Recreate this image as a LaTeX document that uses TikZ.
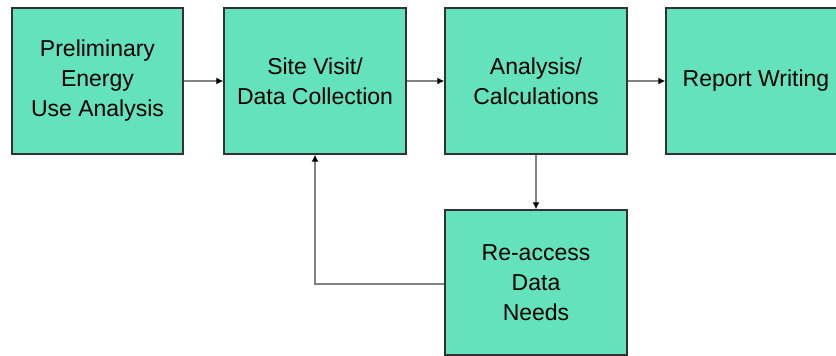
\documentclass[tikz,border=0pt]{standalone}
\usepackage{fontspec}
\setmainfont{Liberation Sans}
\usetikzlibrary{arrows.meta}
\definecolor{boxfill}{RGB}{100,226,188}
\definecolor{boxline}{RGB}{50,50,50}
\definecolor{conn}{RGB}{130,130,130}
\begin{document}
\begin{tikzpicture}[x=1pt,y=-1pt,
  box/.style={draw=boxline,line width=1.4pt,fill=boxfill,rectangle,
    minimum width=182pt,minimum height=146pt,align=center,inner sep=0pt,
    font=\fontsize{23}{30}\selectfont},
  conn/.style={draw=conn,line width=1.3pt,
    -{Latex[length=7pt,width=7pt,color=black]}}]
\useasboundingbox (0,0) rectangle (836,356);
\node[box,minimum width=171pt] (pre) at (97.5,81) {Preliminary\\Energy\\Use Analysis};
\node[box] (site) at (315,81) {Site Visit/\\Data Collection};
\node[box] (calc) at (536,81) {Analysis/\\Calculations};
\node[box,minimum width=172pt] (rep) at (752,81) {\hspace*{8pt}Report Writing};
\node[box,minimum height=145pt] (re) at (536,282.5) {Re-access\\Data\\Needs};
\coordinate (bend) at (315,284);
\draw[conn] (pre) -- (site);
\draw[conn] (site) -- (calc);
\draw[conn] (calc) -- (rep);
\draw[conn] (calc) -- (re);
\draw[conn] (re.west |- bend) -- (bend) -- (site);
\end{tikzpicture}
\end{document}
